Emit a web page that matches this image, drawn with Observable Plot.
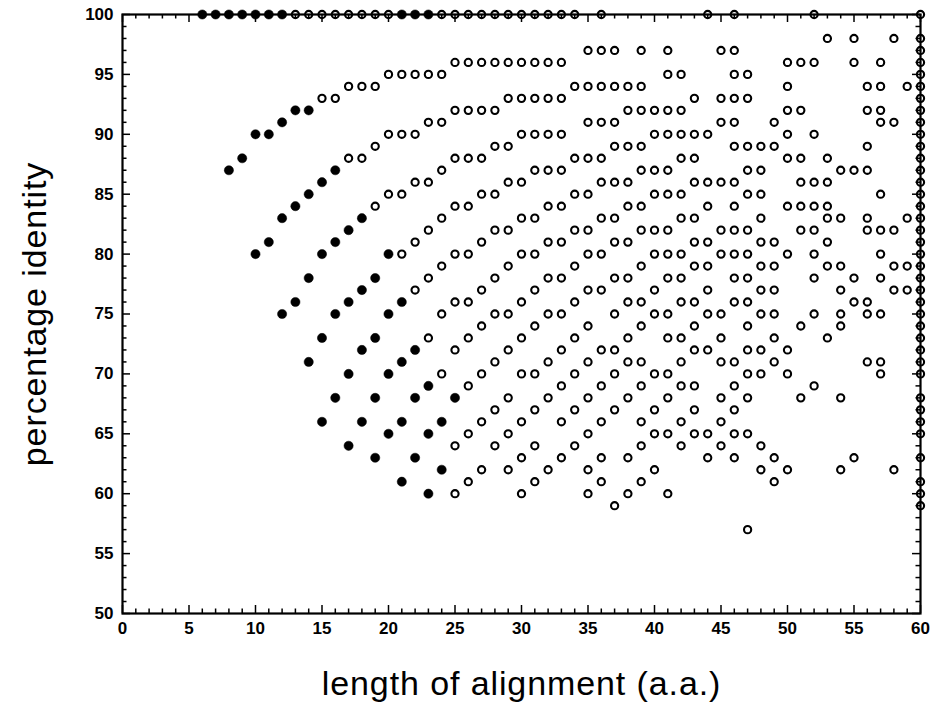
<!DOCTYPE html>
<html>
<head>
<meta charset="utf-8">
<script src="https://cdn.jsdelivr.net/npm/d3@7"></script>
<script src="https://cdn.jsdelivr.net/npm/@observablehq/plot@0.6"></script>
<style>
  html, body { margin: 0; padding: 0; background: #fff; }
</style>
</head>
<body>
<div id="chart"></div>
<script>
// ---- tick labels ----
const xTicks = [0, 5, 10, 15, 20, 25, 30, 35, 40, 45, 50, 55, 60];
const yTicks = [50, 55, 60, 65, 70, 75, 80, 85, 90, 95, 100];
const xLabel = "length of alignment (a.a.)";
const yLabel = "percentage identity";

// ---- filled points: [alignment length, [percentage identities]] ----
const filledByLength = [
  [6, [100]], [7, [100]], [8, [100, 87]], [9, [100, 88]],
  [10, [100, 90, 80]], [11, [100, 90, 81]], [12, [100, 91, 83, 75]],
  [13, [92, 84, 76]], [14, [92, 85, 78, 71]], [15, [86, 80, 73, 66]],
  [16, [87, 81, 75, 68]], [17, [82, 76, 70, 64]], [18, [83, 77, 72, 66]],
  [19, [78, 73, 68, 63]], [20, [80, 75, 70, 65]], [21, [100, 76, 71, 66, 61]],
  [22, [100, 72, 68, 63]], [23, [100, 69, 65, 60]], [24, [66, 62]], [25, [68]]
];

// ---- open points: [alignment length, [percentage identities]] ----
const openByLength = [
  [13, [100]], [14, [100]], [15, [100, 93]], [16, [100, 93]],
  [17, [100, 94, 88]], [18, [100, 94, 88]], [19, [100, 94, 89, 84]],
  [20, [100, 95, 90, 85]], [21, [95, 90, 85, 80]], [22, [95, 90, 86, 81, 77]],
  [23, [95, 91, 86, 82, 78, 73]], [24, [100, 95, 91, 87, 83, 79, 75, 70]],
  [25, [100, 96, 92, 88, 84, 80, 76, 72, 64, 60]],
  [26, [100, 96, 92, 88, 84, 80, 76, 73, 69, 65, 61]],
  [27, [100, 96, 92, 88, 85, 81, 77, 74, 70, 66, 62]],
  [28, [100, 96, 92, 89, 85, 82, 78, 75, 71, 67, 64]],
  [29, [100, 96, 93, 89, 86, 82, 79, 75, 72, 68, 65, 62]],
  [30, [100, 96, 93, 90, 86, 83, 80, 76, 73, 70, 66, 63, 60]],
  [31, [100, 96, 93, 90, 87, 83, 80, 77, 74, 70, 67, 64, 61]],
  [32, [100, 96, 93, 90, 87, 84, 81, 78, 75, 71, 68, 62]],
  [33, [100, 96, 93, 90, 87, 84, 81, 78, 75, 72, 69, 66, 63]],
  [34, [100, 94, 88, 85, 82, 79, 76, 73, 70, 67, 64]],
  [35, [97, 94, 91, 88, 85, 82, 80, 77, 74, 71, 68, 65, 62, 60]],
  [36, [100, 97, 94, 91, 88, 86, 83, 80, 77, 72, 69, 66, 63, 61]],
  [37, [97, 94, 91, 89, 86, 83, 81, 78, 75, 72, 70, 67, 59]],
  [38, [94, 92, 89, 86, 84, 81, 78, 76, 73, 71, 68, 63, 60]],
  [39, [97, 94, 92, 89, 87, 84, 82, 79, 76, 74, 71, 69, 66, 64, 61]],
  [40, [92, 90, 87, 85, 82, 80, 77, 75, 70, 67, 65, 62]],
  [41, [97, 95, 92, 90, 87, 85, 82, 80, 78, 75, 73, 70, 68, 65, 60]],
  [42, [95, 92, 90, 88, 85, 83, 80, 78, 76, 73, 71, 69, 66, 64]],
  [43, [93, 90, 88, 86, 83, 81, 79, 76, 74, 72, 69, 67, 65]],
  [44, [100, 90, 86, 84, 81, 79, 77, 75, 72, 65, 63]],
  [45, [97, 93, 91, 86, 82, 80, 75, 73, 71, 68, 66, 64]],
  [46, [100, 97, 95, 93, 91, 89, 86, 84, 82, 80, 78, 76, 71, 69, 67, 65, 63]],
  [47, [95, 93, 89, 87, 85, 82, 80, 78, 76, 74, 72, 70, 68, 65, 57]],
  [48, [89, 87, 85, 83, 81, 79, 77, 75, 72, 70, 64, 62]],
  [49, [91, 89, 81, 79, 77, 75, 73, 71, 63, 61]],
  [50, [96, 94, 92, 90, 88, 84, 80, 72, 70, 62]],
  [51, [96, 92, 88, 86, 84, 82, 74, 68]],
  [52, [100, 96, 90, 86, 84, 82, 80, 78, 75, 69]],
  [53, [98, 88, 86, 84, 83, 81, 79, 73]],
  [54, [87, 83, 79, 77, 75, 74, 68, 62]],
  [55, [98, 96, 87, 78, 76, 63]],
  [56, [94, 92, 89, 87, 83, 82, 76, 75, 71]],
  [57, [96, 94, 92, 91, 85, 82, 80, 78, 75, 71, 70]],
  [58, [98, 91, 82, 79, 77, 62]],
  [59, [94, 83, 79, 77]],
  [60, [100, 98, 97, 96, 95, 94, 93, 92, 91, 90, 89, 88, 87, 86, 85, 84, 83, 82, 81, 80,
        79, 78, 77, 76, 75, 74, 73, 72, 71, 70, 68, 67, 66, 65, 63, 61, 60, 59]]
];

// ---- layout ----
const W = 947, H = 709;
const M = {top: 14, right: 27, bottom: 96, left: 122};
const xDomain = [0, 60], yDomain = [50, 100];
const xPerPx = (xDomain[1] - xDomain[0]) / (W - M.left - M.right);
const yPerPx = (yDomain[1] - yDomain[0]) / (H - M.top - M.bottom);
const majorPx = 8, minorPx = 4.5;

const toRows = groups => groups.flatMap(([len, ids]) => ids.map(id => ({len, id})));
const filled = toRows(filledByLength);
const open = toRows(openByLength);

const xMinor = d3.range(xDomain[0], xDomain[1] + 1);
const yMinor = d3.range(yDomain[0], yDomain[1] + 1);
const tickLen = d => (d % 5 === 0 ? majorPx : minorPx);

const tickStyle = {stroke: "black", strokeWidth: 1.5};

const chart = Plot.plot({
  width: W,
  height: H,
  marginTop: M.top,
  marginRight: M.right,
  marginBottom: M.bottom,
  marginLeft: M.left,
  x: {domain: xDomain, axis: null},
  y: {domain: yDomain, axis: null},
  style: {fontFamily: "'Liberation Sans', Arial, Helvetica, sans-serif", background: "white", color: "black"},
  marks: [
    // inward ticks on all four sides
    Plot.ruleX(xMinor, {x: d => d, y1: yDomain[0], y2: d => yDomain[0] + tickLen(d) * yPerPx, ...tickStyle}),
    Plot.ruleX(xMinor, {x: d => d, y1: d => yDomain[1] - tickLen(d) * yPerPx, y2: yDomain[1], ...tickStyle}),
    Plot.ruleY(yMinor, {y: d => d, x1: xDomain[0], x2: d => xDomain[0] + tickLen(d) * xPerPx, ...tickStyle}),
    Plot.ruleY(yMinor, {y: d => d, x1: d => xDomain[1] - tickLen(d) * xPerPx, x2: xDomain[1], ...tickStyle}),
    Plot.frame({stroke: "black", strokeWidth: 2.2}),
    // tick labels
    Plot.text(xTicks, {x: d => d, frameAnchor: "bottom", dy: 20, text: d => String(d),
      fontSize: 17, fontWeight: "bold", fill: "black"}),
    Plot.text(yTicks, {y: d => d, frameAnchor: "left", dx: -9, textAnchor: "end", text: d => String(d),
      fontSize: 17, fontWeight: "bold", fill: "black"}),
    // axis titles
    Plot.text([xLabel], {frameAnchor: "bottom", dy: 81, textAnchor: "middle", text: d => d, fontSize: 34, fill: "black"}),
    Plot.text([yLabel], {frameAnchor: "left", dx: -87, textAnchor: "middle", rotate: -90, text: d => d, fontSize: 34, fill: "black"}),
    // data
    Plot.dot(open, {x: "len", y: "id", r: 3.6, stroke: "black", strokeWidth: 2.1, fill: "none"}),
    Plot.dot(filled, {x: "len", y: "id", r: 4.6, fill: "black", stroke: "black", strokeWidth: 0.5})
  ]
});

// slight letter spacing on the axis titles to match the wide lettering of the original
d3.select(chart).selectAll("text")
  .filter(function () { return this.textContent === xLabel || this.textContent === yLabel; })
  .attr("letter-spacing", "0.9px");

document.getElementById("chart").appendChild(chart);
</script>
</body>
</html>
